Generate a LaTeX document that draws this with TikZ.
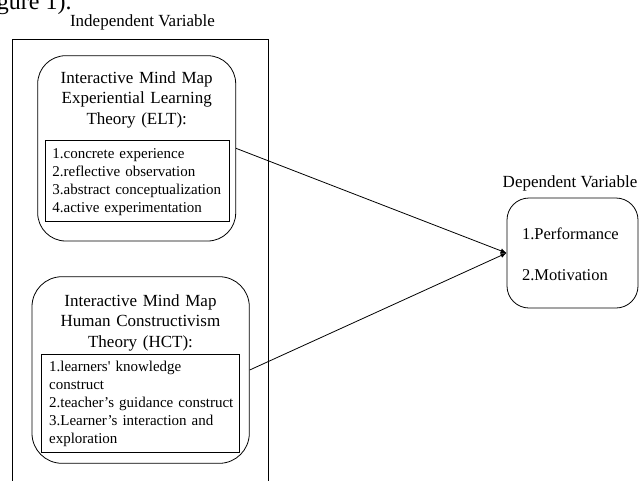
\documentclass[tikz,border=0pt]{standalone}
\usepackage{fontspec}
\setmainfont{Liberation Serif}
\usetikzlibrary{arrows.meta}
\begin{document}
\begin{tikzpicture}[x=1pt,y=-1pt,line width=0.8pt,
  roundbox/.style={draw, rounded corners=28pt, inner sep=0pt},
  plainbox/.style={draw, inner sep=0pt},
  headtext/.style={font=\fontsize{17}{20.5}\selectfont, anchor=base, inner sep=0pt},
  titletext/.style={font=\fontsize{17}{20.5}\selectfont, align=center, text width=210pt, anchor=base, inner sep=0pt},
  listtext/.style={font=\fontsize{15}{18}\selectfont, align=left, text width=195pt, anchor=base west, inner sep=0pt},
  deptext/.style={font=\fontsize{16.5}{41}\selectfont, align=left, text width=110pt, anchor=base west, inner sep=0pt},
  link/.style={-{Latex[length=6pt,width=5pt]}, line width=0.8pt}]
\useasboundingbox (0,0) rectangle (642,480);
\clip (0,0) rectangle (642,480);
% clipped caption tail at the top
\node[font=\fontsize{24}{28}\selectfont, anchor=base east, inner sep=0pt] (cap) at (72,9.5) {(Figure 1).};
% independent side
\node[headtext] (indeplabel) at (142.5,26) {Independent Variable};
\node[plainbox, minimum width=255.7pt, minimum height=470pt] (outer) at (140.15,274.3) {};
% ELT
\node[roundbox, minimum width=198pt, minimum height=185.3pt] (elt) at (136.7,148.35) {};
\node[titletext] (elttitle) at (136.7,83) {Interactive Mind Map\\Experiential Learning\\Theory (ELT):};
\node[plainbox, minimum width=184pt, minimum height=80.3pt] (eltlist) at (137,180.85) {};
\node[listtext] (elttext) at (52,158) {1.concrete experience\\2.reflective observation\\3.abstract conceptualization\\4.active experimentation};
% HCT
\node[roundbox, rounded corners=30pt, minimum width=217.3pt, minimum height=186.6pt] (hct) at (140.65,370) {};
\node[titletext] (hcttitle) at (140.5,306) {Interactive Mind Map\\Human Constructivism\\Theory (HCT):};
\node[plainbox, minimum width=198pt, minimum height=98pt] (hctlist) at (140.3,403) {};
\node[listtext] (hcttext) at (48.7,371) {1.learners\textquotesingle{} knowledge\\construct\\2.teacher’s guidance construct\\3.Learner’s interaction and\\exploration};
% dependent side
\node[headtext] (deplabel) at (570,187) {Dependent Variable};
\node[roundbox, rounded corners=22pt, minimum width=131pt, minimum height=110pt] (dep) at (572.5,253) {};
\node[deptext] (deptxt) at (521.7,239) {1.Performance\\2.Motivation};
% connectors
\draw[link] (elt.east) -- (dep.west);
\draw[link] (hct.east) -- (dep.west);
\end{tikzpicture}
\end{document}
